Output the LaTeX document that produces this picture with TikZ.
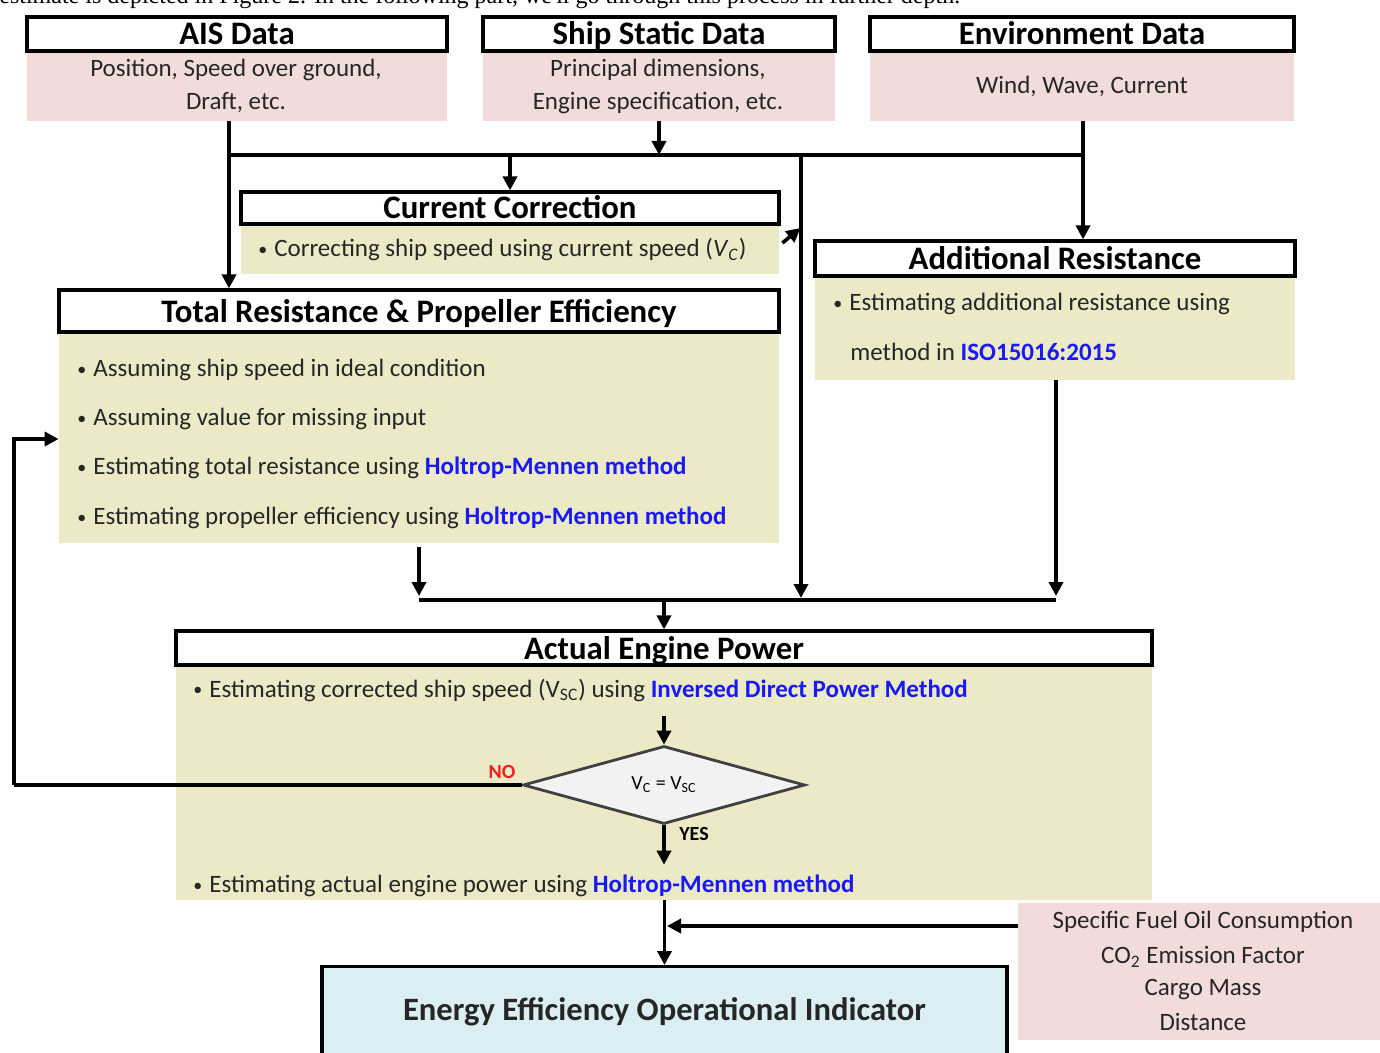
\documentclass[tikz,border=0pt]{standalone}
\usepackage{fontspec}
\setmainfont{Carlito}
\newfontfamily\serif{Liberation Serif}
\usetikzlibrary{arrows.meta,shapes.geometric}
\definecolor{pinkbg}{RGB}{242,220,219}
\definecolor{olivebg}{RGB}{235,233,198}
\definecolor{bluebg}{RGB}{219,238,244}
\definecolor{linkblue}{RGB}{25,25,245}
\definecolor{txt}{RGB}{38,38,38}
\definecolor{diafill}{RGB}{242,242,242}
\definecolor{nored}{RGB}{240,30,30}
\tikzset{
  hdr/.style={draw=black, line width=1.6pt, fill=white, inner sep=0pt, text height=13pt, text depth=2pt, font=\fontsize{16.4}{19}\selectfont\bfseries},
  pinkbox/.style={fill=pinkbg, inner sep=0pt},
  olivebox/.style={fill=olivebg, inner sep=0pt},
  bodytxt/.style={inner sep=0pt, text=txt, font=\fontsize{12.5}{15}\selectfont},
  ln/.style={line width=1.8pt, black},
  arr/.style={line width=1.8pt, black, -{Triangle[length=7pt,width=7pt]}},
}
\newcommand{\hm}{\textcolor{linkblue}{\bfseries Holtrop-Mennen method}}
\newcommand{\bul}{{\fontsize{9}{9}\selectfont\raisebox{0.6pt}{\textbullet}}\hspace{3.5pt}}
\begin{document}
\begin{tikzpicture}[x=0.5pt,y=-0.5pt]
\useasboundingbox (0,0) rectangle (1380,1053);
\fill[white] (0,0) rectangle (1380,1053);

% cropped text line at the top
\node[anchor=base west, inner sep=0pt, font=\serif\fontsize{12}{14}\selectfont] (toptext) at (-1,4) {estimate is depicted in Figure 2. In the following part, we'll go through this process in further depth.};

% input boxes
\node[pinkbox, minimum width=210pt, minimum height=35pt] (aisb) at (237,86) {};
\node[hdr, minimum width=210pt, minimum height=17pt] (aish) at (237,34) {AIS Data};
\node[bodytxt] (ais1) at (236,70) {Position, Speed over ground,};
\node[bodytxt] (ais2) at (236,103) {Draft, etc.};

\node[pinkbox, minimum width=176pt, minimum height=35pt] (shipb) at (659,86) {};
\node[hdr, minimum width=176pt, minimum height=17pt] (shiph) at (659,34) {Ship Static Data};
\node[bodytxt] (ship1) at (658,70) {Principal dimensions,};
\node[bodytxt] (ship2) at (658,103) {Engine specification, etc.};

\node[pinkbox, minimum width=212pt, minimum height=35pt] (envb) at (1082,86) {};
\node[hdr, minimum width=212pt, minimum height=17pt] (envh) at (1082,34) {Environment Data};
\node[bodytxt] (env1) at (1082,86) {Wind, Wave, Current};

% current correction
\node[olivebox, minimum width=269pt, minimum height=25pt] (ccb) at (510,249) {};
\node[hdr, minimum width=269pt, minimum height=16pt] (cch) at (510,208) {Current Correction};
\node[bodytxt, anchor=west] (cc1) at (258,250) {\bul Correcting ship speed using current speed (\textit{V}\textsubscript{\textit{C}})};

% additional resistance
\node[olivebox, minimum width=240pt, minimum height=52pt] (arb) at (1055,328) {};
\node[hdr, minimum width=240pt, minimum height=17.5pt] (arh) at (1055,258.5) {Additional Resistance};
\node[bodytxt, anchor=west] (ar1) at (833,304) {\bul Estimating additional resistance using};
\node[bodytxt, anchor=west] (ar2) at (850,352) {method in \textcolor{linkblue}{\bfseries ISO15016:2015}};

% total resistance
\node[olivebox, minimum width=360pt, minimum height=105.5pt] (trb) at (419,437.5) {};
\node[hdr, minimum width=360pt, minimum height=21pt] (trh) at (419,311) {Total Resistance \& Propeller Efficiency};
\node[bodytxt, anchor=west] (tr1) at (77,370) {\bul Assuming ship speed in ideal condition};
\node[bodytxt, anchor=west] (tr2) at (77,419) {\bul Assuming value for missing input};
\node[bodytxt, anchor=west] (tr3) at (77,468) {\bul Estimating total resistance using \hm};
\node[bodytxt, anchor=west] (tr4) at (77,518) {\bul Estimating propeller efficiency using \hm};

% actual engine power
\node[olivebox, minimum width=488pt, minimum height=117.5pt] (aepb) at (664,782.5) {};
\node[hdr, minimum width=488pt, minimum height=17pt] (aeph) at (664,648) {Actual Engine Power};
\node[bodytxt, anchor=west] (aep1) at (193,690) {\bul Estimating corrected ship speed (V\textsubscript{SC}) using \textcolor{linkblue}{\bfseries Inversed Direct Power Method}};
\node[bodytxt, anchor=west] (aep2) at (193,886) {\bul Estimating actual engine power using \hm};
\node[diamond, draw=black!75, line width=1.4pt, fill=diafill, minimum width=141pt, minimum height=39pt, inner sep=0pt, aspect=3.6, font=\fontsize{10}{11}\selectfont] (dia) at (664,785) {V\textsubscript{C} = V\textsubscript{SC}};
\node[inner sep=0pt, text=nored, font=\fontsize{10}{12}\selectfont\bfseries] (no) at (502,772) {NO};
\node[inner sep=0pt, font=\fontsize{10}{12}\selectfont\bfseries] (yes) at (694,834) {YES};

% other inputs and EEOI
\node[pinkbox, minimum width=181pt, minimum height=68.5pt] (sfoc) at (1199,971.5) {};
\node[bodytxt] (sf1) at (1203,922) {Specific Fuel Oil Consumption};
\node[bodytxt] (sf2) at (1203,957) {CO\textsubscript{2} Emission Factor};
\node[bodytxt] (sf3) at (1203,990) {Cargo Mass};
\node[bodytxt] (sf4) at (1203,1022) {Distance};
\node[draw=black, line width=1.6pt, fill=bluebg, minimum width=342.5pt, minimum height=55pt, inner sep=0pt, anchor=north] (eeoi) at (664.5,965) {};
\node[inner sep=0pt, text=txt, font=\fontsize{16.3}{19}\selectfont\bfseries] (eeoit) at (664.5,1012) {Energy Efficiency Operational Indicator};

% coordinates of the buses
\coordinate (busL) at (229,155);
\coordinate (busR) at (1083,155);
\coordinate (vbus) at (801,155);
\coordinate (bus2L) at (419,600);
\coordinate (bus2R) at (1056,600);
\coordinate (loop) at (14,439);
\coordinate (sfocIn) at (667,926);
\coordinate (vtip) at (801,598);

% connectors
\draw[ln] (busL) -- (busR);
\draw[ln] (busL |- aisb.south) -- (busL);
\draw[arr] (busL) -- (busL |- trh.north);
\draw[arr] (shipb.south) -- (shipb.south |- busL);
\draw[arr] (busR |- envb.south) -- (busR |- arh.north);
\draw[arr] (busL -| cch.north) -- (cch.north);
\draw[arr] (vbus) -- (vtip);
\draw[arr] ([shift={(3,-6)}]ccb.east) -- ([shift={(21,-21)}]ccb.east);
\draw[arr] ([yshift=-2pt]trb.south) -- ([yshift=2pt]trb.south |- bus2L);
\draw[arr] (bus2R |- arb.south) -- ([yshift=2pt]bus2R);
\draw[ln] (bus2L) -- (bus2R);
\draw[arr] (bus2L -| aeph.north) -- (aeph.north);
\draw[arr] ([yshift=-7pt]aep1.south -| dia.north) -- (dia.north);
\draw[arr] (loop |- dia.west) -- (loop) -- (trb.west |- loop);
\draw[ln] (dia.west) -- (loop |- dia.west);
\draw[arr] (dia.south) -- ([yshift=5pt]dia.south |- aep2.north);
\draw[arr] (aepb.south -| eeoi.north) -- (eeoi.north);
\draw[arr] (sfoc.west |- sfocIn) -- (sfocIn);
\end{tikzpicture}
\end{document}
